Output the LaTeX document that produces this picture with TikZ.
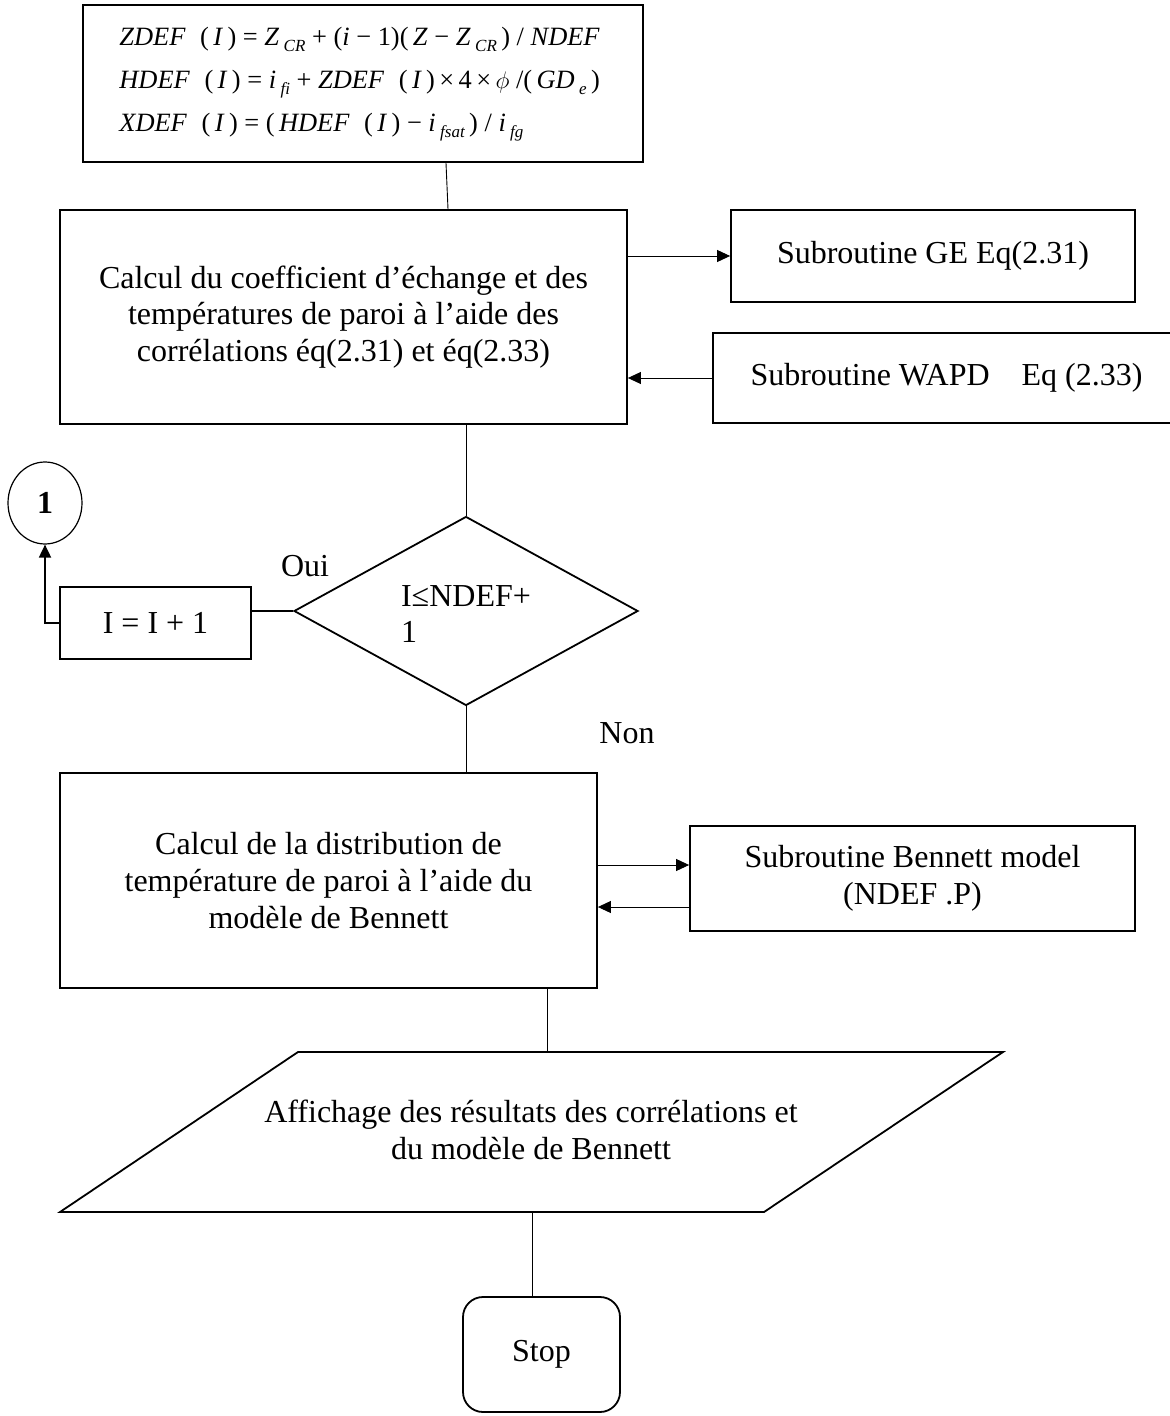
\documentclass[tikz,border=0pt]{standalone}
\usepackage{fontspec}
\setmainfont{Liberation Serif}
\usetikzlibrary{arrows.meta,shapes.geometric,calc}

% italic variable and lowered italic index for the formulas
\newcommand\fvar[1]{\textit{#1}}
\newcommand\fidx[1]{\raisebox{-0.5ex}{\fontsize{8.5pt}{8.5pt}\selectfont\itshape #1}}
\newcommand\fgap{\hspace{0.55em}}

\begin{document}
\begin{tikzpicture}[x=0.5pt,y=-0.5pt,
  txt/.style={font=\fontsize{16pt}{18.4pt}\selectfont},
  box/.style={draw,line width=0.9pt,rectangle,inner sep=0pt,txt,align=center},
  thin/.style={line width=0.45pt},
  thickline/.style={line width=0.9pt},
  arr/.style={-{Triangle[length=6.5pt,width=6pt]}},
]
\useasboundingbox (0,0) rectangle (1169,1416);

% formula block
\node[draw,line width=1.2pt,minimum width=280pt,minimum height=78.5pt,inner sep=0pt] (f) at (363,83.5) {};
\node[anchor=west,align=left,inner sep=0pt,font=\fontsize{13.2pt}{21.5pt}\selectfont] (ftext) at (119,84) {%
\fvar{ZDEF}\fgap(\,\fvar{I}\,) = \fvar{Z}\,\fidx{CR} + (\fvar{i} − 1)(\,\fvar{Z} − \fvar{Z}\,\fidx{CR}\,) / \fvar{NDEF}\\
\fvar{HDEF}\fgap(\,\fvar{I}\,) = \fvar{i}\,\fidx{fi} + \fvar{ZDEF}\fgap(\,\fvar{I}\,)\,×\,4\,×\,$\phi$ /(\,\fvar{GD}\,\fidx{e}\,)\\
\fvar{XDEF}\fgap(\,\fvar{I}\,) = (\,\fvar{HDEF}\fgap(\,\fvar{I}\,) − \fvar{i}\,\fidx{fsat}\,) / \fvar{i}\,\fidx{fg}};

% correlation step
\node[box,minimum width=283.5pt,minimum height=107pt] (b2) at (343.5,317)
  {Calcul du coefficient d’échange et des\\températures de paroi à l’aide des\\corrélations éq(2.31) et éq(2.33)};
\node[box,minimum width=202pt,minimum height=46pt] (ge) at (933,256) {Subroutine GE Eq(2.31)};
\node[box,minimum width=233.5pt,minimum height=45pt] (wapd) at (946.5,378) {Subroutine WAPD\hspace{16pt}Eq (2.33)};

% loop test
\node[diamond,draw,line width=0.9pt,minimum width=172pt,minimum height=94.5pt,inner sep=0pt] (dia) at (466,611) {};
\node[txt,align=left,inner sep=0pt] (dtext) at (466,614) {I≤NDEF+\\1};
\node[box,minimum width=95.5pt,minimum height=36pt] (inc) at (155.5,623) {I = I + 1};
\node[ellipse,draw,line width=0.6pt,minimum width=37pt,minimum height=41pt,inner sep=0pt,txt] (one) at (45,503) {\textbf{1}};
\node[txt,inner sep=0pt] (oui) at (305,566) {Oui};
\node[txt,inner sep=0pt] (non) at (627,733) {Non};

% wall temperature distribution
\node[box,minimum width=268.5pt,minimum height=107.5pt] (b3) at (328.5,880.5)
  {Calcul de la distribution de\\température de paroi à l’aide du\\modèle de Bennett};
\node[box,minimum width=222.5pt,minimum height=52.5pt] (ben) at (912.5,878.5)
  {Subroutine Bennett model\\(NDEF .P)};

% output
\draw[line width=0.9pt] (298,1052) -- (1003,1052) -- (764,1212) -- (60,1212) -- cycle;
\node[txt,align=center,inner sep=0pt] (out) at (531,1130)
  {Affichage des résultats des corrélations et\\du modèle de Bennett};
\coordinate (pTop) at (547,1052);
\coordinate (pBot) at (532,1212);

\node[box,rounded corners=10pt,minimum width=78.5pt,minimum height=57.5pt] (stop) at (541.5,1354.5) {Stop};

% connectors
\draw[thin] ([xshift=41.5pt]f.south) -- ([xshift=52.25pt]b2.north);
\draw[thin,arr] (ge.west -| b2.east) -- (ge.west);
\draw[thin,arr] (wapd.west) -- (wapd.west -| b2.east);
\draw[thin] (dia.north |- b2.south) -- (dia.north);
\draw[thickline] (dia.west) -- (dia.west -| inc.east);
\draw[thickline,arr] (inc.west) -| (one.south);
\draw[thin] (dia.south) -- (dia.south |- b3.north);
\coordinate (benIn) at ($(ben.west)+(0,6.75pt)$);
\coordinate (benOut) at ($(ben.west)+(0,-14.25pt)$);
\draw[thin,arr] (benIn -| b3.east) -- (benIn);
\draw[thin,arr] (benOut) -- (benOut -| b3.east);
\draw[thin] (pTop |- b3.south) -- (pTop);
\draw[thin] (pBot) -- (pBot |- stop.north);
\end{tikzpicture}
\end{document}
